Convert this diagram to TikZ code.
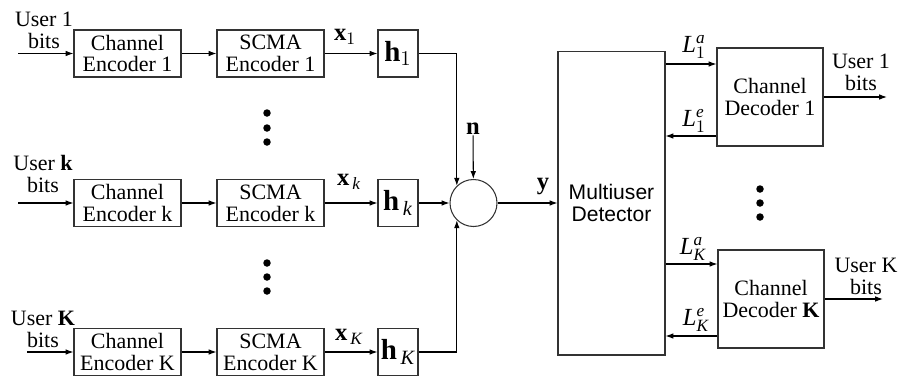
\documentclass[tikz,border=0pt]{standalone}
\usepackage{fontspec}
\setmainfont{Liberation Serif}
\newfontfamily\detfont{Liberation Sans}
\usetikzlibrary{arrows.meta}

\tikzset{
  block/.style={draw=black!80, line width=0.6pt, align=center, inner sep=0pt,
    minimum width=2.14cm, minimum height=0.94cm},
  chan/.style={draw=black!80, line width=0.6pt, inner sep=0pt,
    minimum width=0.8cm, minimum height=0.94cm, font=\fontsize{16.5}{16.5}\selectfont},
  sig/.style={inner sep=0pt, font=\fontsize{14}{14}\selectfont}
}

\begin{document}
\begin{tikzpicture}[x=0.02cm, y=-0.02cm, line width=0.6pt,
    >={Latex[length=4.5pt,width=3.2pt]},
    font=\fontsize{12.5}{12.5}\selectfont]
    \useasboundingbox (0,0) rectangle (900,376);

    % User 1 chain
    \node[block] (enc1) at (127.5,53.5) {Channel\\Encoder 1};
    \node[block] (scma1) at (270.5,53.5) {SCMA\\Encoder 1};
    \node[chan] (h1) at (398,53.5) {$\mathbf{h}_1$};
    \node[align=center] (u1) at (44,30) {User 1\\bits};
    \node[sig] (x1) at (345,37) {$\mathbf{x}_1$};
    \coordinate (in1) at (18,53.5);
    \draw[->] (in1) -- (enc1);
    \draw[->] (enc1) -- (scma1);
    \draw[->] (scma1) -- (h1);

    % User k chain
    \node[block] (enck) at (127.5,203) {Channel\\Encoder k};
    \node[block] (scmak) at (270.5,203) {SCMA\\Encoder k};
    \node[chan] (hk) at (398,203) {$\mathbf{h}_{\,\mathit{k}}$};
    \node[align=center] (uk) at (43,174) {User \textbf{k}\\bits};
    \node[sig] (xk) at (349,182) {$\mathbf{x}_{\,\mathit{k}}$};
    \coordinate (ink) at (18,203);
    \draw[->] (ink) -- (enck);
    \draw[->] (enck) -- (scmak);
    \draw[->] (scmak) -- (hk);

    % User K chain
    \node[block] (encK) at (127.5,352) {Channel\\Encoder K};
    \node[block] (scmaK) at (270.5,352) {SCMA\\Encoder K};
    \node[chan] (hK) at (398,352) {$\mathbf{h}_{\,\mathit{K}}$};
    \node[align=center] (uK) at (43,329) {User \textbf{K}\\bits};
    \node[sig] (xK) at (349,337) {$\mathbf{x}_{\,\mathit{K}}$};
    \coordinate (inK) at (27,352);
    \draw[->] (inK) -- (encK);
    \draw[->] (encK) -- (scmaK);
    \draw[->] (scmaK) -- (hK);

    % dots between the chains
    \foreach \y in {113,128,142,263,277,291}
        \fill (267,\y) circle (0.075cm);

    % Sum with noise
    \node[draw=black!80, circle, inner sep=0pt, minimum size=0.94cm] (sum) at (473.5,203) {};
    \node[sig] (n) at (473,129) {$\mathbf{n}$};
    \draw[->] (n) -- (sum);
    \draw[->] (h1) -| (sum.134);
    \draw[->] (hk) -- (sum);
    \draw[->] (hK) -| (sum.226);

    % Detector
    \node[block, minimum height=6.08cm, font=\detfont\fontsize{12}{12.5}\selectfont]
        (det) at (611.5,203) {Multiuser\\Detector};
    \node[sig] (y) at (543,187) {$\mathbf{y}$};
    \draw[->] (sum) -- (det);

    % Decoders
    \node[block, minimum width=2.12cm, minimum height=1.96cm] (dec1) at (770,97) {Channel\\Decoder 1};
    \node[block, minimum width=2.12cm, minimum height=1.96cm] (decK) at (771,299) {Channel\\Decoder \textbf{K}};
    \path ([yshift=0.66cm]dec1.west) coordinate (a1)
          ([yshift=-0.78cm]dec1.west) coordinate (e1)
          ([yshift=0.70cm]decK.west) coordinate (aK)
          ([yshift=-0.74cm]decK.west) coordinate (eK);
    \draw[->] (a1 -| det.east) -- (a1);
    \draw[->] (e1) -- (e1 -| det.east);
    \draw[->] (aK -| det.east) -- (aK);
    \draw[->] (eK) -- (eK -| det.east);
    \node[sig] (la1) at (694,47) {$\mathit{L}_1^{\mathit{a}}$};
    \node[sig] (le1) at (694,121) {$\mathit{L}_1^{\mathit{e}}$};
    \node[sig] (laK) at (693,249) {$\mathit{L}_{\mathit{K}}^{\mathit{a}}$};
    \node[sig] (leK) at (696,320) {$\mathit{L}_{\mathit{K}}^{\mathit{e}}$};

    % dots between the decoders
    \foreach \y in {189,203,217}
        \fill (760,\y) circle (0.075cm);

    % Outputs
    \coordinate (out1) at (887,97);
    \coordinate (outK) at (883,299);
    \draw[->] (dec1) -- (out1);
    \draw[->] (decK) -- (outK);
    \node[align=center] (o1) at (861,72) {User 1\\bits};
    \node[align=center] (oK) at (866,276) {User K\\bits};
\end{tikzpicture}
\end{document}
